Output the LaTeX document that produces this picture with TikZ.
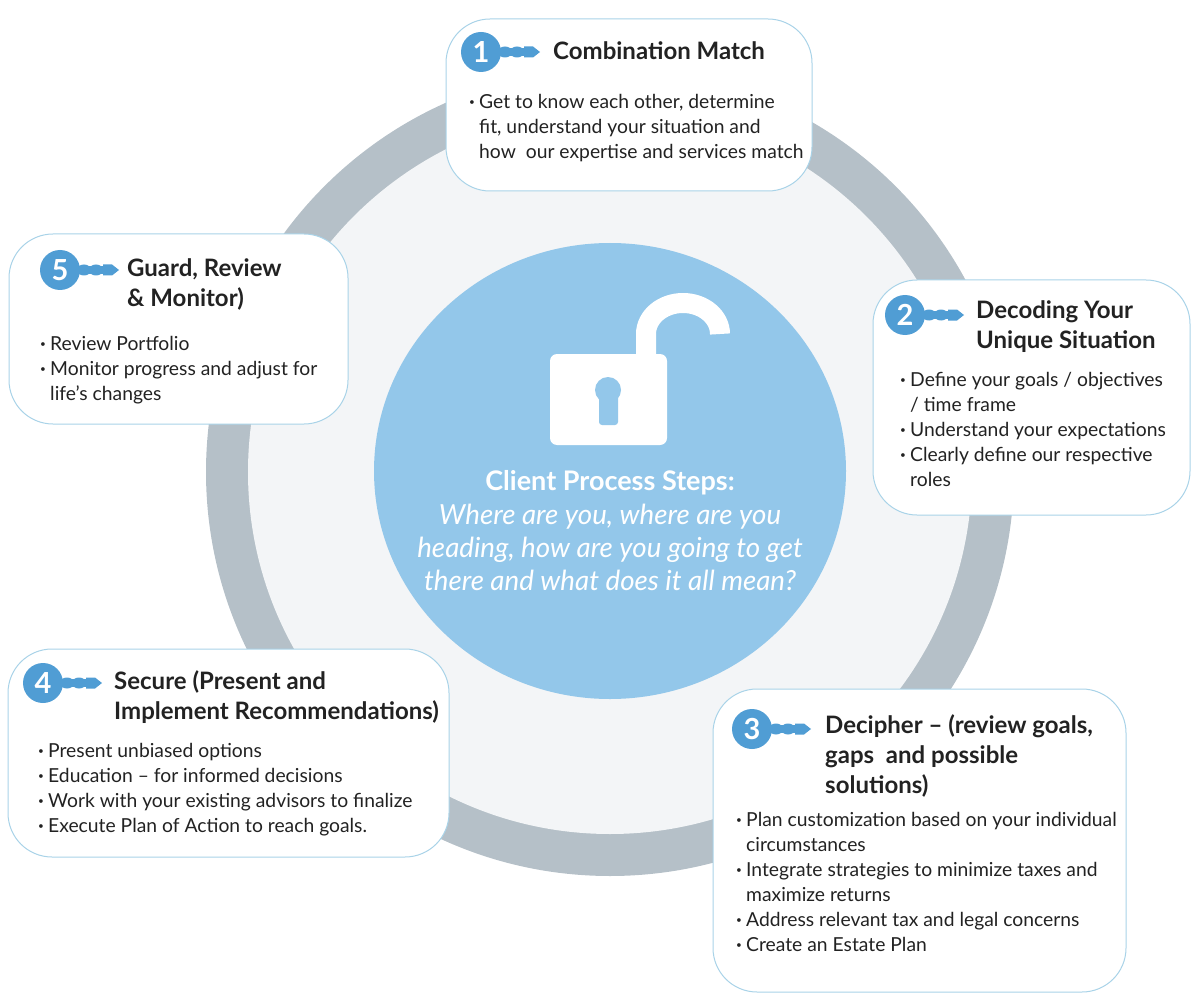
\documentclass[tikz,border=0pt]{standalone}
\usepackage{fontspec}
\setmainfont{Lato}
\usetikzlibrary{positioning}
\definecolor{ringgray}{HTML}{B5C0C8}
\definecolor{paleface}{HTML}{F3F5F7}
\definecolor{skyface}{HTML}{93C7EA}
\definecolor{keyblue}{HTML}{509DD4}
\definecolor{boxline}{HTML}{A9D3E8}
\definecolor{inkblack}{HTML}{222222}
\newcommand{\itm}{\makebox[10pt][l]{\raisebox{3pt}{\fontsize{10}{10}\selectfont\textbullet}}}
\newcommand{\cnt}{\hspace*{10pt}}
\tikzset{
  stepbox/.style={draw=boxline,fill=white,line width=1pt,rounded corners=44pt},
  heading/.style={anchor=north west,align=left,inner sep=0pt,text=inkblack,font=\fontsize{24}{30}\selectfont\bfseries},
  bodytext/.style={anchor=north west,align=left,inner sep=0pt,text=inkblack,font=\fontsize{19.3}{25}\selectfont},
  keynum/.style={text=white,inner sep=0pt,font=\fontsize{29}{30}\selectfont\bfseries},
}
\newcommand{\keyicon}[3]{% name, position, number
  \fill[keyblue] (#2) circle (20);
  \begin{scope}[shift={(#2)}]
    \fill[keyblue] (15,-4) rectangle (50,4);
    \fill[keyblue] (24,0) ellipse (7 and 5.5) (36,0) ellipse (7 and 5.5);
    \fill[keyblue] (43,-5.5) -- (52,-5.5) -- (59,0) -- (52,5.5) -- (43,5.5) -- cycle;
  \end{scope}
  \node[keynum] (#1) at (#2) {#3};
}
\begin{document}
\begin{tikzpicture}[x=1pt,y=-1pt]
  \useasboundingbox (0,0) rectangle (1199,1008);
  % wheel behind the boxes
  \fill[ringgray] (610,472) circle (404);
  \fill[paleface] (610,472) circle (362);
  \fill[skyface] (610,471) ellipse (236 and 228);
  % padlock
  \draw[white,line width=20pt] (646,356) -- (646,334) arc (180:360:37 and 31);
  \fill[white,rounded corners=7pt] (550,354) rectangle (667,445);
  \fill[skyface] (608,390) circle (13);
  \fill[skyface,rounded corners=3pt] (599,392) rectangle (618,425);
  % centre text
  \node[text=white,inner sep=0pt,font=\fontsize{27}{30}\selectfont\bfseries] (title) at (610,483) {Client Process Steps:};
  \node[below=8pt of title,text=white,inner sep=0pt,align=center,font=\fontsize{27.7}{33}\selectfont\itshape] (question)
    {Where are you, where are you\\heading, how are you going to get\\there and what does it all mean?};
  % step 1
  \draw[stepbox] (446,19) rectangle (812,191);
  \keyicon{numa}{481,52}{1}
  \node[heading] (heada) at (553,41) {Combination Match};
  \node[bodytext] (bodya) at (469,94) {\itm Get to know each other, determine\\\cnt fit, understand your situation and\\\cnt how\ \ our expertise and services match};
  % step 2
  \draw[stepbox] (873,280) rectangle (1190,515);
  \keyicon{numb}{905,315}{2}
  \node[heading] (headb) at (976,300) {Decoding Your\\Unique Situation};
  \node[bodytext] (bodyb) at (900,372) {\itm Define your goals / objectives\\\cnt / time frame\\\itm Understand your expectations\\\itm Clearly define our respective\\\cnt roles};
  % step 3
  \draw[stepbox] (713,689) rectangle (1126,992);
  \keyicon{numc}{752,729}{3}
  \node[heading] (headc) at (825,714) {Decipher -- (review goals,\\gaps\ \ and possible\\solutions)};
  \node[bodytext] (bodyc) at (736,812) {\itm Plan customization based on your individual\\\cnt circumstances\\\itm Integrate strategies to minimize taxes and\\\cnt maximize returns\\\itm Address relevant tax and legal concerns\\\itm Create an Estate Plan};
  % step 4
  \draw[stepbox] (8,649) rectangle (449,857);
  \keyicon{numd}{43,683}{4}
  \node[heading] (headd) at (114,670) {Secure (Present and\\Implement Recommendations)};
  \node[bodytext] (bodyd) at (38,743) {\itm Present unbiased options\\\itm Education -- for informed decisions\\\itm Work with your existing advisors to finalize\\\itm Execute Plan of Action to reach goals.};
  % step 5
  \draw[stepbox] (9,234) rectangle (348,424);
  \keyicon{nume}{60,270}{5}
  \node[heading] (heade) at (127,258) {Guard, Review\\\& Monitor)};
  \node[bodytext] (bodye) at (40,336) {\itm Review Portfolio\\\itm Monitor progress and adjust for\\\cnt life's changes};
\end{tikzpicture}
\end{document}
